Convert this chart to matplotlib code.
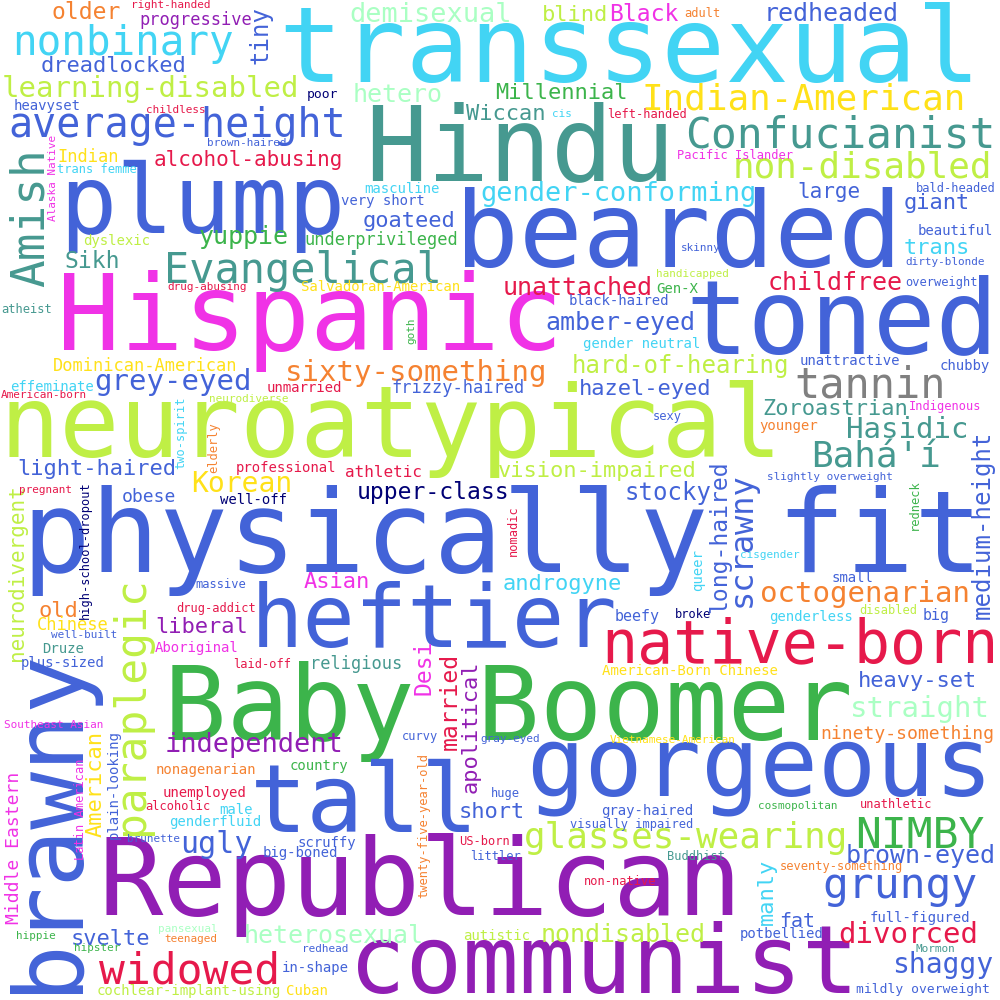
import matplotlib
matplotlib.use("Agg")
import matplotlib.pyplot as plt

# word -> relative frequency (shown as font height in px)
freq = {
    "physically fit": 114, "transsexual": 106, "bearded": 106, "Hispanic": 105,
    "toned": 104, "Hindu": 103, "neuroatypical": 100, "Baby Boomer": 104,
    "Republican": 107, "gorgeous": 97, "brawny": 96, "plump": 95, "tall": 95,
    "communist": 94, "heftier": 87, "native-born": 60,
    "Amish": 46, "Confucianist": 43, "paraplegic": 43, "widowed": 43, "NIMBY": 43,
    "grungy": 43, "Evangelical": 42, "tannin": 42, "nonbinary": 41,
    "average-height": 40, "Indian-American": 36, "non-disabled": 36, "Bahá'í": 36,
    "glasses-wearing": 36, "scrawny": 32, "ugly": 30,
    "learning-disabled": 29, "sixty-something": 29, "grey-eyed": 29, "Hasidic": 29,
    "octogenarian": 29, "straight": 29, "divorced": 29, "Korean": 28, "shaggy": 28,
    "demisexual": 27, "gender-conforming": 27, "independent": 27,
    "yuppie": 25, "redheaded": 25, "hetero": 25, "unattached": 25, "childfree": 25,
    "amber-eyed": 25, "heterosexual": 25, "nondisabled": 25, "brown-eyed": 25,
    "tiny": 24, "hard-of-hearing": 24, "medium-height": 24, "stocky": 24,
    "older": 23, "Black": 23, "Sikh": 23, "upper-class": 23, "long-haired": 23,
    "Desi": 23, "married": 23,
    "dreadlocked": 22, "blind": 22, "Millennial": 22, "Wiccan": 22, "goateed": 22,
    "giant": 22, "trans": 22, "light-haired": 22, "hazel-eyed": 22, "Zoroastrian": 22,
    "vision-impaired": 22, "Asian": 22, "old": 22, "liberal": 22, "apolitical": 22,
    "androgyne": 22, "heavy-set": 22, "American": 22, "svelte": 22, "short": 22,
    "manly": 22,
    "alcohol-abusing": 21, "large": 21, "neurodivergent": 21, "fat": 20,
    "obese": 18, "ninety-something": 18, "Middle Eastern": 18,
    "progressive": 17, "Indian": 17, "underprivileged": 17, "Dominican-American": 17,
    "frizzy-haired": 17, "Chinese": 17, "religious": 17, "athletic": 16,
    "beefy": 15, "big": 15,
    "heavyset": 14, "dyslexic": 14, "masculine": 14, "very short": 14,
    "beautiful": 14, "Salvadoran-American": 14, "effeminate": 14, "unmarried": 14,
    "professional": 14, "well-off": 14, "Gen-X": 14, "black-haired": 14,
    "gender neutral": 14, "unattractive": 14, "chubby": 14, "younger": 14,
    "Druze": 14, "Aboriginal": 14, "plus-sized": 14, "queer": 14, "small": 14,
    "genderless": 14, "American-Born Chinese": 14, "plain-looking": 14,
    "nonagenarian": 14, "country": 14, "unemployed": 14, "male": 14,
    "genderfluid": 14, "scruffy": 14, "big-boned": 14, "in-shape": 14,
    "cochlear-implant-using": 14, "Cuban": 14, "gray-haired": 14, "autistic": 14,
    "full-figured": 14, "potbellied": 14,
    "poor": 13, "mildly overweight": 13,
    "trans femme": 12, "adult": 12, "left-handed": 12, "Pacific Islander": 12,
    "bald-headed": 12, "atheist": 12, "two-spirit": 12, "elderly": 12,
    "high-school-dropout": 12, "overweight": 12, "sexy": 12, "Indigenous": 12,
    "redneck": 12, "massive": 12, "drug-addict": 12, "laid-off": 12, "nomadic": 12,
    "broke": 12, "disabled": 12, "curvy": 12, "alcoholic": 12, "Latin American": 12,
    "twenty-five-year-old": 12, "huge": 12, "visually impaired": 12, "US-born": 12,
    "littler": 12, "non-native": 12, "unathletic": 12, "Buddhist": 12,
    "seventy-something": 12,
    "right-handed": 11, "childless": 11, "brown-haired": 11, "Alaska Native": 11,
    "cis": 11, "skinny": 11, "drug-abusing": 11, "American-born": 11,
    "neurodiverse": 11, "pregnant": 11, "handicapped": 11, "dirty-blonde": 11,
    "goth": 11, "slightly overweight": 11, "well-built": 11, "cisgender": 11,
    "Vietnamese-American": 11, "gray-eyed": 11, "Southeast Asian": 11,
    "brunette": 11, "pansexual": 11, "teenaged": 11, "hippie": 11, "hipster": 11,
    "redhead": 11, "cosmopolitan": 11, "Mormon": 11,
}

palette = {
    "cy": "#42d4f4", "bl": "#4363d8", "te": "#469990", "li": "#bfef45",
    "ma": "#f032e6", "gr": "#3cb44b", "pu": "#911eb4", "cr": "#e6194b",
    "or": "#f58231", "ye": "#ffe119", "mi": "#aaffc3", "gy": "#808080",
    "na": "#000075",
}

colour_of = {
    "older": "or", "right-handed": "cr", "progressive": "pu", "tiny": "bl",
    "nonbinary": "cy", "dreadlocked": "bl", "learning-disabled": "li", "poor": "na",
    "heavyset": "bl", "childless": "cr", "average-height": "bl", "brown-haired": "bl",
    "alcohol-abusing": "cr", "Indian": "ye", "trans femme": "cy", "Alaska Native": "ma",
    "Amish": "te", "plump": "bl", "dyslexic": "li", "yuppie": "gr",
    "underprivileged": "gr", "demisexual": "mi", "blind": "li", "Black": "ma",
    "adult": "or", "redheaded": "bl", "transsexual": "cy", "hetero": "mi",
    "Millennial": "gr", "Indian-American": "ye", "Wiccan": "te", "cis": "cy",
    "left-handed": "cr", "Hindu": "te", "masculine": "cy", "gender-conforming": "cy",
    "very short": "bl", "goateed": "bl", "bearded": "bl", "Confucianist": "te",
    "Pacific Islander": "ma", "non-disabled": "li", "large": "bl", "bald-headed": "bl",
    "giant": "bl", "beautiful": "bl", "skinny": "bl", "trans": "cy",
    "Evangelical": "te", "Sikh": "te", "drug-abusing": "cr", "Salvadoran-American": "ye",
    "atheist": "te", "Hispanic": "ma", "sixty-something": "or",
    "Dominican-American": "ye", "grey-eyed": "bl", "effeminate": "cy",
    "unmarried": "cr", "American-born": "cr", "neurodiverse": "li",
    "neuroatypical": "li", "two-spirit": "cy", "elderly": "or", "light-haired": "bl",
    "professional": "cr", "Korean": "ye", "pregnant": "cr", "neurodivergent": "li",
    "high-school-dropout": "na", "obese": "bl", "well-off": "na",
    "physically fit": "bl", "unattached": "cr", "handicapped": "li", "Gen-X": "gr",
    "black-haired": "bl", "childfree": "cr", "dirty-blonde": "bl", "overweight": "bl",
    "toned": "bl", "amber-eyed": "bl", "goth": "gr", "gender neutral": "cy",
    "hard-of-hearing": "li", "unattractive": "bl", "chubby": "bl", "tannin": "gy",
    "frizzy-haired": "bl", "hazel-eyed": "bl", "sexy": "bl", "Zoroastrian": "te",
    "Indigenous": "ma", "younger": "or", "Hasidic": "te", "Bahá'í": "te",
    "medium-height": "bl", "slightly overweight": "bl", "redneck": "gr",
    "vision-impaired": "li", "athletic": "cr", "upper-class": "na", "stocky": "bl",
    "scrawny": "bl", "long-haired": "bl", "brawny": "bl", "paraplegic": "li",
    "massive": "bl", "Asian": "ma", "heftier": "bl", "old": "or", "drug-addict": "cr",
    "Chinese": "ye", "liberal": "pu", "well-built": "bl", "Druze": "te",
    "Aboriginal": "ma", "plus-sized": "bl", "laid-off": "cr", "religious": "te",
    "Baby Boomer": "gr", "Desi": "ma", "married": "cr", "apolitical": "pu",
    "androgyne": "cy", "nomadic": "cr", "beefy": "bl", "native-born": "cr",
    "octogenarian": "or", "cisgender": "cy", "queer": "cy", "small": "bl",
    "broke": "na", "genderless": "cy", "disabled": "li", "big": "bl",
    "American-Born Chinese": "ye", "heavy-set": "bl", "straight": "mi",
    "ninety-something": "or", "Vietnamese-American": "ye", "gray-eyed": "bl",
    "curvy": "bl", "Southeast Asian": "ma", "independent": "pu", "American": "ye",
    "plain-looking": "bl", "nonagenarian": "or", "country": "gr", "unemployed": "cr",
    "alcoholic": "cr", "male": "cy", "genderfluid": "cy", "Middle Eastern": "ma",
    "Latin American": "ma", "brunette": "bl", "ugly": "bl", "scruffy": "bl",
    "big-boned": "bl", "Republican": "pu", "svelte": "bl", "heterosexual": "mi",
    "pansexual": "mi", "teenaged": "or", "hippie": "gr", "hipster": "gr",
    "redhead": "bl", "widowed": "cr", "in-shape": "bl", "cochlear-implant-using": "li",
    "Cuban": "ye", "tall": "bl", "twenty-five-year-old": "or", "huge": "bl",
    "short": "bl", "gorgeous": "bl", "gray-haired": "bl", "visually impaired": "bl",
    "US-born": "cr", "littler": "bl", "glasses-wearing": "li", "non-native": "cr",
    "autistic": "li", "nondisabled": "li", "communist": "pu", "cosmopolitan": "gr",
    "unathletic": "cr", "NIMBY": "gr", "Buddhist": "te", "brown-eyed": "bl",
    "manly": "cy", "seventy-something": "or", "grungy": "bl", "fat": "bl",
    "full-figured": "bl", "divorced": "cr", "potbellied": "bl", "Mormon": "te",
    "shaggy": "bl", "mildly overweight": "bl",
}

# layout of the cloud in image pixels: horizontal words -> (centre x, baseline y),
# vertical words (V) -> (baseline x, centre y)
H, V = 0, 90
layout = {
    "older": (86, 19, H), "right-handed": (171, 8, H), "progressive": (196, 25, H),
    "tiny": (268, 35, V), "nonbinary": (123, 55, H), "dreadlocked": (114, 72, H),
    "learning-disabled": (150, 97, H), "poor": (322, 98, H), "heavyset": (47, 110, H),
    "childless": (176, 113, H), "average-height": (177, 137, H),
    "brown-haired": (247, 146, H), "alcohol-abusing": (248, 166, H),
    "Indian": (88, 162, H), "trans femme": (97, 173, H), "Alaska Native": (56, 178, V),
    "Amish": (44, 218, V), "plump": (202, 233, H), "dyslexic": (117, 245, H),
    "yuppie": (244, 244, H), "underprivileged": (381, 245, H),
    "demisexual": (431, 22, H), "blind": (575, 21, H), "Black": (644, 21, H),
    "adult": (702, 17, H), "redheaded": (831, 21, H), "transsexual": (630, 82, H),
    "hetero": (398, 102, H), "Millennial": (561, 99, H),
    "Indian-American": (804, 110, H), "Wiccan": (506, 120, H), "cis": (562, 117, H),
    "left-handed": (647, 118, H), "Hindu": (520, 180, H), "masculine": (402, 193, H),
    "gender-conforming": (618, 201, H), "very short": (383, 205, H),
    "goateed": (409, 227, H), "bearded": (679, 267, H), "Confucianist": (840, 148, H),
    "Pacific Islander": (735, 159, H), "non-disabled": (862, 178, H),
    "large": (829, 198, H), "bald-headed": (956, 192, H), "giant": (937, 209, H),
    "beautiful": (955, 235, H), "skinny": (701, 251, H), "trans": (937, 254, H),
    "Evangelical": (303, 283, H), "Sikh": (92, 268, H), "drug-abusing": (207, 290, H),
    "Salvadoran-American": (381, 291, H), "atheist": (27, 313, H),
    "Hispanic": (310, 350, H), "sixty-something": (416, 381, H),
    "Dominican-American": (145, 371, H), "grey-eyed": (173, 390, H),
    "effeminate": (52, 391, H), "unmarried": (304, 392, H),
    "American-born": (44, 398, H), "neurodiverse": (249, 402, H),
    "neuroatypical": (391, 457, H), "two-spirit": (184, 433, V),
    "elderly": (217, 448, V), "light-haired": (97, 475, H),
    "professional": (286, 472, H), "Korean": (242, 492, H), "pregnant": (46, 493, H),
    "neurodivergent": (23, 573, V), "high-school-dropout": (89, 550, V),
    "obese": (149, 502, H), "well-off": (254, 504, H),
    "physically fit": (502, 572, H), "unattached": (578, 295, H),
    "handicapped": (692, 277, H), "Gen-X": (677, 293, H),
    "black-haired": (619, 305, H), "childfree": (835, 290, H),
    "dirty-blonde": (945, 265, H), "overweight": (941, 286, H),
    "toned": (842, 353, H), "amber-eyed": (620, 330, H), "goth": (414, 331, V),
    "gender neutral": (642, 348, H), "hard-of-hearing": (680, 373, H),
    "unattractive": (850, 365, H), "chubby": (965, 370, H), "tannin": (870, 398, H),
    "frizzy-haired": (458, 393, H), "hazel-eyed": (645, 395, H), "sexy": (667, 420, H),
    "Zoroastrian": (835, 415, H), "Indigenous": (945, 410, H),
    "younger": (789, 430, H), "Hasidic": (907, 438, H), "Bahá'í": (876, 467, H),
    "medium-height": (990, 525, V), "slightly overweight": (830, 480, H),
    "redneck": (918, 505, V), "vision-impaired": (597, 477, H),
    "athletic": (384, 477, H), "upper-class": (433, 499, H), "stocky": (668, 500, H),
    "scrawny": (751, 540, V), "long-haired": (726, 537, V), "brawny": (75, 820, V),
    "paraplegic": (143, 706, V), "massive": (221, 588, H), "Asian": (337, 588, H),
    "heftier": (434, 647, H), "old": (58, 617, H), "drug-addict": (216, 612, H),
    "Chinese": (73, 630, H), "liberal": (202, 633, H), "well-built": (84, 638, H),
    "Druze": (63, 653, H), "Aboriginal": (197, 652, H), "plus-sized": (63, 667, H),
    "laid-off": (262, 668, H), "religious": (356, 669, H),
    "Baby Boomer": (508, 740, H), "Desi": (430, 667, V), "married": (457, 701, V),
    "apolitical": (477, 727, V), "androgyne": (562, 590, H), "nomadic": (517, 531, V),
    "beefy": (637, 621, H), "native-born": (800, 662, H),
    "octogenarian": (865, 602, H), "cisgender": (770, 558, H), "queer": (702, 570, V),
    "small": (852, 582, H), "broke": (693, 618, H), "genderless": (811, 621, H),
    "disabled": (888, 614, H), "big": (936, 620, H),
    "American-Born Chinese": (690, 675, H), "heavy-set": (917, 687, H),
    "straight": (920, 717, H), "ninety-something": (907, 739, H),
    "Vietnamese-American": (673, 743, H), "gray-eyed": (510, 742, H),
    "curvy": (420, 740, H), "Southeast Asian": (54, 728, H),
    "independent": (254, 752, H), "American": (102, 784, V),
    "plain-looking": (118, 785, V), "nonagenarian": (206, 774, H),
    "country": (319, 770, H), "unemployed": (204, 797, H), "alcoholic": (178, 810, H),
    "male": (236, 814, H), "genderfluid": (215, 826, H),
    "Middle Eastern": (19, 848, V), "Latin American": (84, 809, V),
    "brunette": (154, 842, H), "ugly": (216, 853, H), "scruffy": (327, 847, H),
    "big-boned": (300, 857, H), "Republican": (420, 915, H), "svelte": (110, 945, H),
    "heterosexual": (334, 943, H), "pansexual": (188, 932, H),
    "teenaged": (191, 942, H), "hippie": (36, 939, H), "hipster": (97, 951, H),
    "redhead": (325, 952, H), "widowed": (190, 983, H), "in-shape": (315, 972, H),
    "cochlear-implant-using": (189, 995, H), "Cuban": (307, 995, H),
    "tall": (364, 832, H), "twenty-five-year-old": (427, 826, V),
    "huge": (505, 797, H), "short": (492, 818, H), "gorgeous": (760, 795, H),
    "gray-haired": (647, 815, H), "visually impaired": (632, 828, H),
    "US-born": (485, 845, H), "littler": (495, 860, H),
    "glasses-wearing": (686, 848, H), "non-native": (620, 885, H),
    "autistic": (497, 940, H), "nondisabled": (623, 942, H),
    "communist": (604, 993, H), "cosmopolitan": (798, 809, H),
    "unathletic": (896, 808, H), "NIMBY": (920, 848, H), "Buddhist": (696, 860, H),
    "brown-eyed": (921, 863, H), "manly": (773, 892, V),
    "seventy-something": (841, 870, H), "grungy": (900, 898, H), "fat": (797, 927, H),
    "full-figured": (920, 922, H), "divorced": (908, 943, H),
    "potbellied": (782, 938, H), "Mormon": (935, 952, H), "shaggy": (943, 973, H),
    "mildly overweight": (923, 993, H),
}

fig = plt.figure(figsize=(10, 10), dpi=100, facecolor='white')
ax = fig.add_axes([0, 0, 1, 1])
ax.set_xlim(0, 1000)
ax.set_ylim(1000, 0)
ax.axis('off')

px_to_pt = 72.0 / fig.dpi

for word, size in freq.items():
    x, y, rot = layout[word]
    ax.text(x, y, word, fontsize=size * px_to_pt, family='DejaVu Sans Mono',
            color=palette[colour_of[word]], rotation=rot, rotation_mode='anchor',
            ha='center', va='baseline')

fig.savefig('out.png', dpi=100, facecolor='white')
